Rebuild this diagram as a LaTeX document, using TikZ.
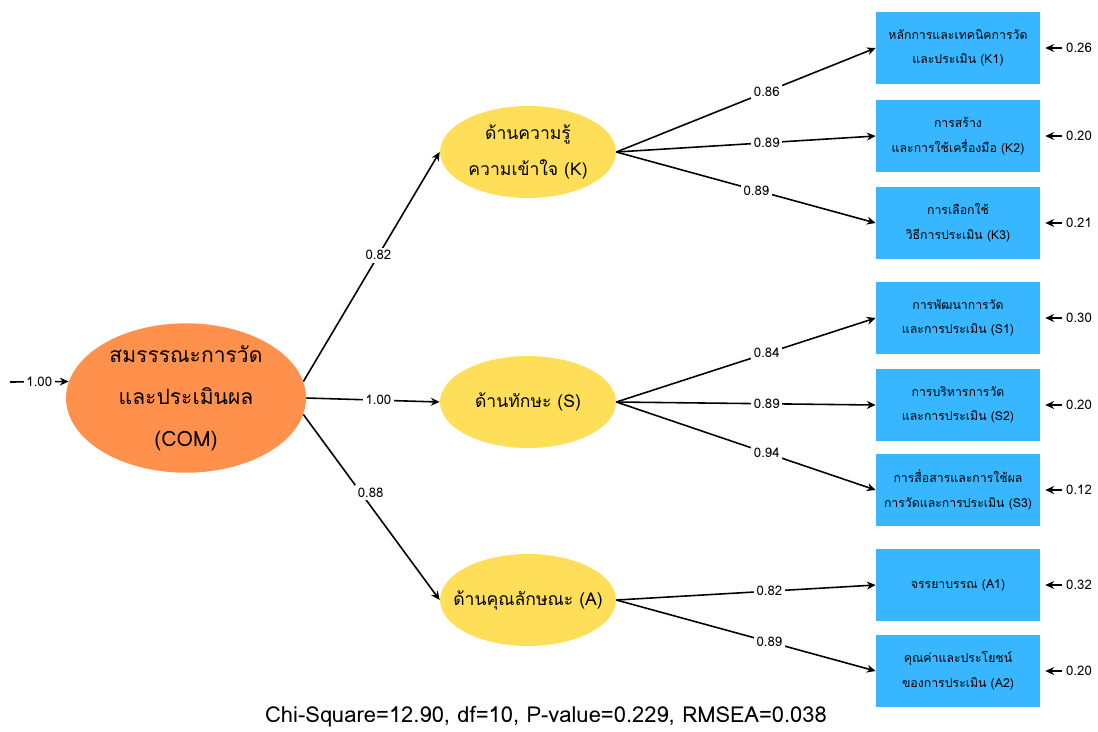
\documentclass[tikz,border=0pt]{standalone}
\usepackage{fontspec}
\setmainfont[Script=Thai]{Loma}
\usetikzlibrary{arrows.meta,shapes.geometric}

\definecolor{comorange}{HTML}{FF914D}
\definecolor{latyellow}{HTML}{FFDE59}
\definecolor{obsblue}{HTML}{38B6FF}

\tikzset{
    path/.style={line width=0.9pt,-{Stealth[length=5pt,width=4.5pt]}},
    coef/.style={fill=white,inner sep=1.5pt,font=\fontsize{7.5}{8}\selectfont},
    errlbl/.style={inner sep=2pt,font=\fontsize{7.5}{8}\selectfont},
    latent/.style={ellipse,fill=latyellow,minimum width=3.52cm,minimum height=1.84cm,inner sep=0pt,inner xsep=-0.4cm,align=center,font=\fontsize{10}{20}\selectfont},
    obsbox/.style={rectangle,fill=obsblue,minimum width=3.28cm,minimum height=1.44cm,inner sep=0pt,align=center,font=\fontsize{7}{14}\selectfont}
}

\begin{document}
\begin{tikzpicture}[x=0.02cm,y=-0.02cm]
            \useasboundingbox (0,0) rectangle (1098,731);

            \node[ellipse,fill=comorange,minimum width=4.8cm,minimum height=2.8cm,inner sep=0pt,align=center,font=\fontsize{12}{24}\selectfont] (COM) at (186,398) {สมรรรณะการวัด\\และประเมินผล\\(COM)};

            \node[latent] (K) at (528,152) {ด้านความรู้\\ความเข้าใจ (K)};
            \node[latent] (S) at (528,402) {ด้านทักษะ (S)};
            \node[latent] (A) at (528,600) {ด้านคุณลักษณะ (A)};

            \node[obsbox] (K1) at (958,48) {หลักการและเทคนิคการวัด\\และประเมิน (K1)};
            \node[obsbox] (K2) at (958,136) {การสร้าง\\และการใช้เครื่องมือ (K2)};
            \node[obsbox] (K3) at (958,223) {การเลือกใช้\\วิธีการประเมิน (K3)};
            \node[obsbox] (S1) at (958,318) {การพัฒนาการวัด\\และการประเมิน (S1)};
            \node[obsbox] (S2) at (958,405) {การบริหารการวัด\\และการประเมิน (S2)};
            \node[obsbox] (S3) at (958,490) {การสื่อสารและการใช้ผล\\การวัดและการประเมิน (S3)};
            \node[obsbox] (A1) at (958,585) {จรรยาบรรณ (A1)};
            \node[obsbox] (A2) at (958,671) {คุณค่าและประโยชน์\\ของการประเมิน (A2)};

            \coordinate (e0) at (10,382);
            \draw[path] (e0) -- node[coef] {1.00} (COM.172);

            \draw[path] (COM.8) -- node[coef,pos=0.55] {0.82} (K.west);
            \draw[path] (COM.east) -- node[coef,pos=0.54] {1.00} (S.west);
            \draw[path] (COM.-8) -- node[coef,pos=0.42,xshift=0.2cm] {0.88} (A.west);

            \draw[path] (K.east) -- node[coef,pos=0.58] {0.86} (K1.west);
            \draw[path] (K.east) -- node[coef,pos=0.58] {0.89} (K2.west);
            \draw[path] (K.east) -- node[coef,pos=0.54] {0.89} (K3.west);
            \draw[path] (S.east) -- node[coef,pos=0.58] {0.84} (S1.west);
            \draw[path] (S.east) -- node[coef,pos=0.58] {0.89} (S2.west);
            \draw[path] (S.east) -- node[coef,pos=0.58] {0.94} (S3.west);
            \draw[path] (A.east) -- node[coef,pos=0.59] {0.82} (A1.west);
            \draw[path] (A.east) -- node[coef,pos=0.59] {0.89} (A2.west);

            \node[errlbl] (eK1) at (1079,48) {0.26};
            \node[errlbl] (eK2) at (1079,136) {0.20};
            \node[errlbl] (eK3) at (1079,223) {0.21};
            \node[errlbl] (eS1) at (1079,318) {0.30};
            \node[errlbl] (eS2) at (1079,405) {0.20};
            \node[errlbl] (eS3) at (1079,490) {0.12};
            \node[errlbl] (eA1) at (1079,585) {0.32};
            \node[errlbl] (eA2) at (1079,671) {0.20};
            \draw[path,shorten >=2.8pt] (eK1.west) -- (K1.east);
            \draw[path,shorten >=2.8pt] (eK2.west) -- (K2.east);
            \draw[path,shorten >=2.8pt] (eK3.west) -- (K3.east);
            \draw[path,shorten >=2.8pt] (eS1.west) -- (S1.east);
            \draw[path,shorten >=2.8pt] (eS2.west) -- (S2.east);
            \draw[path,shorten >=2.8pt] (eS3.west) -- (S3.east);
            \draw[path,shorten >=2.8pt] (eA1.west) -- (A1.east);
            \draw[path,shorten >=2.8pt] (eA2.west) -- (A2.east);

            \node[font=\fontsize{12.5}{14}\selectfont] (fit) at (546,717) {Chi-Square=12.90, df=10, P-value=0.229, RMSEA=0.038};
        \end{tikzpicture}
\end{document}
